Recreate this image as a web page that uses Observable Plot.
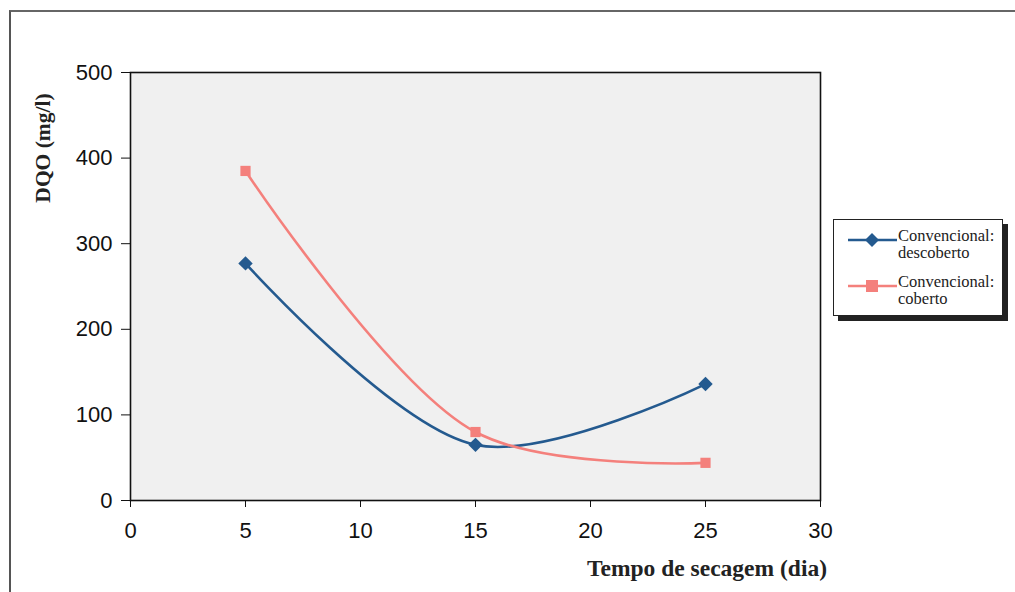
<!DOCTYPE html>
<html>
<head>
<meta charset="utf-8">
<script src="https://cdn.jsdelivr.net/npm/d3@7"></script>
<script src="https://cdn.jsdelivr.net/npm/@observablehq/plot@0.6"></script>
<style>
  html, body { margin: 0; padding: 0; background: #fff; }
  #wrap { position: relative; width: 1015px; height: 592px; overflow: hidden; }
  #border { position: absolute; left: 9px; top: 10px; width: 1020px; height: 580px;
            border-left: 2px solid #555; border-top: 2px solid #666; border-bottom: 1px solid #bbb; }
  #legend { position: absolute; left: 833px; top: 219px; width: 168px; height: 95px;
            border: 1.5px solid #222; background: #fff; box-shadow: 5px 5px 0 #222;
            font-family: "Liberation Serif", "Times New Roman", serif; font-size: 16.5px; color: #222; }
  .item { position: absolute; left: 0; }
  .item svg { position: absolute; left: 14px; top: 4px; }
  .item .txt { position: absolute; left: 64px; top: -1px; line-height: 17px; white-space: nowrap; }
</style>
</head>
<body>
<div id="wrap">
  <div id="border"></div>
  <div id="chart"></div>
  <div id="legend"></div>
</div>
<script>
const days = [5, 15, 25];
const descoberto = [277, 65, 136];
const coberto = [385, 80, 44];
const seriesNames = ["Convencional: descoberto", "Convencional: coberto"];
const seriesColors = ["#245a8f", "#f4807c"];
const xTicks = [0, 5, 10, 15, 20, 25, 30];
const yTicks = [0, 100, 200, 300, 400, 500];

const rows = [];
days.forEach((d, i) => {
  rows.push({day: d, dqo: descoberto[i], s: seriesNames[0]});
  rows.push({day: d, dqo: coberto[i], s: seriesNames[1]});
});

const sans = "'Liberation Sans', Arial, sans-serif";
const serif = "'Liberation Serif', 'Times New Roman', serif";

const plot = Plot.plot({
  width: 1015,
  height: 592,
  marginLeft: 130,
  marginRight: 195,
  marginTop: 72,
  marginBottom: 92,
  style: {fontFamily: sans, fontSize: "22px", color: "#111", background: "transparent", overflow: "visible"},
  x: {domain: [0, 30], ticks: xTicks, label: null},
  y: {domain: [0, 500], ticks: yTicks, label: null},
  color: {domain: seriesNames, range: seriesColors},
  marks: [
    Plot.frame({fill: "#f0f0f0", stroke: "none"}),
    Plot.axisX({ticks: xTicks, tickSize: 7, tickPadding: 15, fontSize: 22, stroke: "#111"}),
    Plot.axisY({ticks: yTicks, tickSize: 9, tickPadding: 9, fontSize: 22, stroke: "#111"}),
    Plot.frame({stroke: "#111", strokeWidth: 1.6}),
    Plot.line(rows, {x: "day", y: "dqo", stroke: "s", z: "s", curve: "catmull-rom", strokeWidth: 2.6}),
    Plot.dot(rows.filter(r => r.s === seriesNames[0]), {x: "day", y: "dqo", fill: seriesColors[0], symbol: "diamond2", r: 6.5}),
    Plot.dot(rows.filter(r => r.s === seriesNames[1]), {x: "day", y: "dqo", fill: seriesColors[1], symbol: "square2", r: 6.5})
  ]
});
document.getElementById("chart").appendChild(plot);

// axis titles
const svg = d3.select(plot);
svg.append("text")
  .attr("x", 827).attr("y", 576)
  .attr("text-anchor", "end")
  .attr("font-family", serif).attr("font-weight", "bold").attr("font-size", 23.5)
  .attr("fill", "#222")
  .text("Tempo de secagem (dia)");
svg.append("text")
  .attr("transform", "translate(50,148) rotate(-90)")
  .attr("text-anchor", "middle")
  .attr("font-family", serif).attr("font-weight", "bold").attr("font-size", 21.5)
  .attr("fill", "#222")
  .text("DQO (mg/l)");

// legend
const legend = document.getElementById("legend");
const symbols = ["diamond", "square"];
seriesNames.forEach((name, i) => {
  const parts = name.split(" ");
  const item = document.createElement("div");
  item.className = "item";
  item.style.top = (8 + i * 46) + "px";
  const path = symbols[i] === "diamond" ? "M24,1 L31,8 L24,15 L17,8 Z" : "M18,2 L30,2 L30,14 L18,14 Z";
  item.innerHTML = `<svg width="50" height="16"><line x1="0" y1="8" x2="49" y2="8" stroke="${seriesColors[i]}" stroke-width="2.4"/><path d="${path}" fill="${seriesColors[i]}"/></svg><div class="txt">${parts[0]}<br>${parts[1]}</div>`;
  legend.appendChild(item);
});
</script>
</body>
</html>
